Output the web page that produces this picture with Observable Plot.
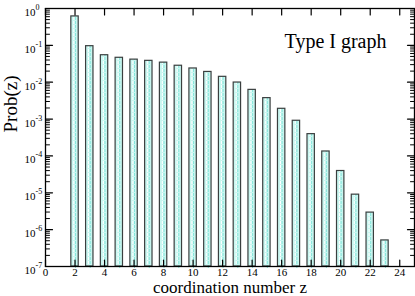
<!DOCTYPE html>
<html><head><meta charset="utf-8">
<script src="https://cdn.jsdelivr.net/npm/d3@7"></script>
<script src="https://cdn.jsdelivr.net/npm/@observablehq/plot@0.6"></script>
<style>body{margin:0;background:#fff} svg{display:block}</style>
</head><body><div id="chart"></div>
<script>
const zValues = [2,3,4,5,6,7,8,9,10,11,12,13,14,15,16,17,18,19,20,21,22,23];
const probValues = [0.61,0.095,0.054,0.046,0.041,0.038,0.034,0.028,0.0236,0.019,0.014,0.0098,0.0062,0.0037,0.0019,0.0009,0.00039,1.32e-4,3.9e-5,8.9e-6,2.9e-6,5.1e-7];
const xTicks = [0,2,4,6,8,10,12,14,16,18,20,22,24];
const yExponents = [-7,-6,-5,-4,-3,-2,-1,0];
const xLabel = "coordination number z";
const yLabel = "Prob(z)";
const title = "Type I graph";

const data = zValues.map((z, i) => ({z, p: probValues[i]}));
const decades = yExponents.map(e => ({e, v: Math.pow(10, e)}));
const minorTicks = yExponents.slice(0, -1).flatMap(e => [2,3,4,5,6,7,8,9].map(m => m * Math.pow(10, e)));
const tickShape = {draw(ctx, l) { ctx.moveTo(0, 0); ctx.lineTo(0, -l); }};
const serif = "'Liberation Serif', 'Times New Roman', serif";
const ink = "#000";

const plot = Plot.plot({
  width: 415, height: 296,
  marginLeft: 45, marginRight: 1, marginTop: 8, marginBottom: 30,
  style: {fontFamily: serif, background: "#fff", color: ink},
  x: {domain: [0, 25], axis: null},
  y: {type: "log", domain: [1e-7, 1], axis: null},
  marks: [
    Plot.rectY(data, {x1: d => d.z - 0.25, x2: d => d.z + 0.25, y1: 1e-7, y2: "p", fill: "#c9f6f0"}),
    Plot.ruleX(data, {x: d => d.z - 0.08, y1: 1e-7, y2: "p", stroke: "#ffffff", strokeDasharray: "3,1", insetTop: 2}),
    Plot.ruleX(data, {x: d => d.z + 0.03, y1: 1e-7, y2: "p", stroke: "#86e6db", strokeDasharray: "3,1", insetTop: 2}),
    Plot.rectY(data, {x1: d => d.z - 0.25, x2: d => d.z + 0.25, y1: 1e-7, y2: "p", fill: "none", stroke: "#3a3f3f", strokeWidth: 1.2}),
    // x ticks bottom & top
    Plot.vector(xTicks, {x: d => d, frameAnchor: "bottom", length: 6.5, rotate: 0, anchor: "start", shape: tickShape, stroke: ink, strokeWidth: 1.2}),
    Plot.vector(xTicks, {x: d => d, frameAnchor: "top", length: 6.5, rotate: 180, anchor: "start", shape: tickShape, stroke: ink, strokeWidth: 1.2}),
    // y ticks left & right
    Plot.vector(decades, {y: "v", frameAnchor: "left", length: 7, rotate: 90, anchor: "start", shape: tickShape, stroke: ink, strokeWidth: 1.2}),
    Plot.vector(decades, {y: "v", frameAnchor: "right", length: 7, rotate: -90, anchor: "start", shape: tickShape, stroke: ink, strokeWidth: 1.2}),
    Plot.vector(minorTicks, {y: d => d, frameAnchor: "left", length: 4, rotate: 90, anchor: "start", shape: tickShape, stroke: ink, strokeWidth: 1}),
    Plot.vector(minorTicks, {y: d => d, frameAnchor: "right", length: 4, rotate: -90, anchor: "start", shape: tickShape, stroke: ink, strokeWidth: 1}),
    Plot.frame({stroke: ink, strokeWidth: 1.3}),
    // x tick labels
    Plot.text(xTicks, {x: d => d, text: d => String(d), frameAnchor: "bottom", dy: 1.5, lineAnchor: "top", fontSize: 11, fill: ink}),
    // y tick labels: base and exponent
    Plot.text(decades, {y: "v", text: () => "10", frameAnchor: "left", dx: -10, dy: 4, textAnchor: "end", lineAnchor: "middle", fontSize: 11, fill: ink}),
    Plot.text(decades, {y: "v", text: d => String(d.e), frameAnchor: "left", dx: -10, dy: -1, textAnchor: "start", lineAnchor: "middle", fontSize: 8, fill: ink}),
    // axis labels and title
    Plot.text([xLabel], {text: d => d, frameAnchor: "bottom", dy: 26.5, lineAnchor: "bottom", fontSize: 17, fill: ink}),
    Plot.text([yLabel], {text: d => d, frameAnchor: "left", dx: -35, dy: -5, rotate: -90, lineAnchor: "middle", fontSize: 19, fill: ink}),
    Plot.text([title], {text: d => d, frameAnchor: "top-right", dx: -28, dy: 39, textAnchor: "end", lineAnchor: "bottom", fontSize: 20, fill: ink})
  ]
});
document.getElementById("chart").appendChild(plot);
</script>
</body></html>
